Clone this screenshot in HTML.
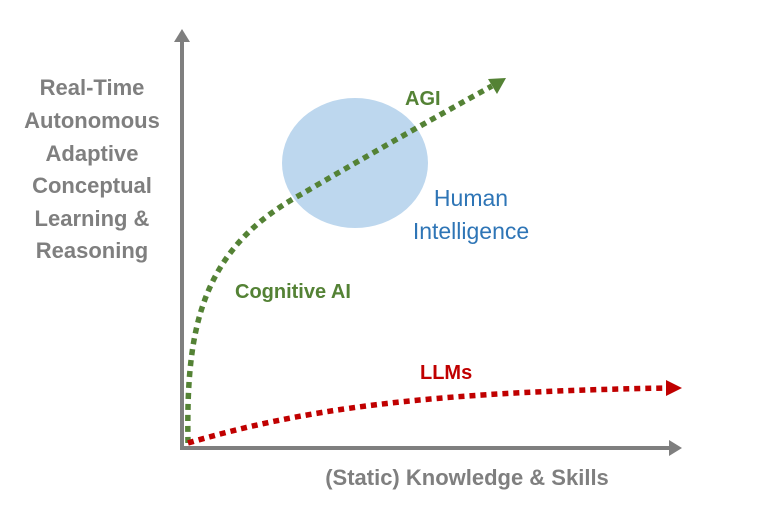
<!DOCTYPE html>
<html><head><style>
html,body{margin:0;padding:0;background:#fff;}
svg{display:block;font-family:"Liberation Sans",sans-serif;}
</style></head><body>
<svg width="770" height="508" viewBox="0 0 770 508" xmlns="http://www.w3.org/2000/svg">
<ellipse cx="355" cy="163" rx="73" ry="65" fill="#bdd7ee"/>
<g stroke="#7f7f7f" stroke-width="4" fill="none">
<line x1="182" y1="448" x2="182" y2="40"/>
<line x1="180" y1="448" x2="670" y2="448"/>
</g>
<polygon points="182,29 174,42 190,42" fill="#7f7f7f"/>
<polygon points="682,448 669,440 669,456" fill="#7f7f7f"/>
<path d="M188,443 C186,330 200,250 300,195 C360,160 430,120 492,86" stroke="#548235" stroke-width="5.5" stroke-dasharray="6,5" fill="none"/>
<polygon points="506,78 488,79 497,94" fill="#548235"/>
<path d="M188,443 C300,410 420,392 668,388" stroke="#c00000" stroke-width="5.5" stroke-dasharray="6,5" fill="none"/>
<polygon points="682,388 666,380 666,396" fill="#c00000"/>
<g font-weight="bold" font-size="22" fill="#7f7f7f" text-anchor="middle">
<text x="92" y="95">Real-Time</text>
<text x="92" y="128">Autonomous</text>
<text x="92" y="161">Adaptive</text>
<text x="92" y="193">Conceptual</text>
<text x="92" y="226">Learning &amp;</text>
<text x="92" y="258">Reasoning</text>
<text x="467" y="485">(Static) Knowledge &amp; Skills</text>
</g>
<g font-weight="bold" font-size="20" fill="#548235">
<text x="405" y="105">AGI</text>
<text x="235" y="298">Cognitive AI</text>
</g>
<text x="420" y="379" font-weight="bold" font-size="20" fill="#c00000">LLMs</text>
<g font-size="23" fill="#2e75b6" text-anchor="middle">
<text x="471" y="206">Human</text>
<text x="471" y="239">Intelligence</text>
</g>
</svg>
</body></html>
